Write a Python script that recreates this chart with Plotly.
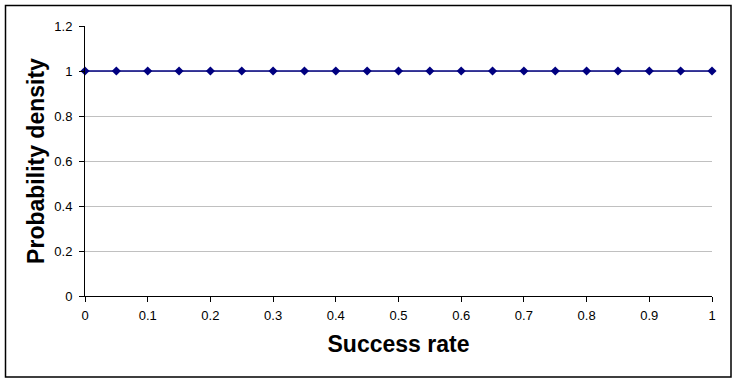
import plotly.graph_objects as go

success_rate = [0, 0.05, 0.1, 0.15, 0.2, 0.25, 0.3, 0.35, 0.4, 0.45, 0.5,
                0.55, 0.6, 0.65, 0.7, 0.75, 0.8, 0.85, 0.9, 0.95, 1]
density = [1] * len(success_rate)
x_ticks = [0, 0.1, 0.2, 0.3, 0.4, 0.5, 0.6, 0.7, 0.8, 0.9, 1]
x_tick_labels = ["0", "0.1", "0.2", "0.3", "0.4", "0.5", "0.6", "0.7", "0.8", "0.9", "1"]
y_ticks = [0, 0.2, 0.4, 0.6, 0.8, 1, 1.2]
y_tick_labels = ["0", "0.2", "0.4", "0.6", "0.8", "1", "1.2"]

W, H = 739, 383
L, R, T, B = 85, 712, 26, 296

fig = go.Figure()
fig.add_trace(go.Scatter(
    x=success_rate, y=density, mode="lines+markers",
    line=dict(color="#000080", width=1.5),
    marker=dict(symbol="diamond", size=7, color="#000080"),
    showlegend=False, cliponaxis=False, hoverinfo="skip",
))

font = "Liberation Sans, Arial, sans-serif"
fig.update_layout(
    width=W, height=H,
    margin=dict(l=L, r=W - R, t=T, b=H - B, pad=0),
    paper_bgcolor="white", plot_bgcolor="white",
    font=dict(family=font, color="black", size=13),
    xaxis=dict(
        range=[0, 1], tickvals=x_ticks, ticktext=x_tick_labels,
        showgrid=False, zeroline=False, showline=True, linecolor="black", linewidth=1,
        ticks="outside", ticklen=5, tickcolor="black", ticklabelstandoff=2,
        title=dict(text="<b>Success rate</b>", font=dict(size=23, family=font), standoff=14),
        tickfont=dict(size=13),
    ),
    yaxis=dict(
        range=[0, 1.2], tickvals=y_ticks, ticktext=y_tick_labels,
        showgrid=True, gridcolor="#c0c0c0", gridwidth=1,
        zeroline=False, showline=True, linecolor="black", linewidth=1,
        ticks="outside", ticklen=5, tickcolor="black", ticklabelstandoff=4,
        title=dict(text="<b>Probability density</b>", font=dict(size=23, family=font), standoff=3),
        tickfont=dict(size=13),
    ),
)

pw, ph = R - L, B - T
def px_x(p):
    return (p - L) / pw
def px_y(p):
    return (B - p) / ph

fig.add_shape(type="rect", xref="paper", yref="paper",
              x0=px_x(5.5), x1=px_x(731), y0=px_y(377), y1=px_y(5.5),
              line=dict(color="black", width=1.5), fillcolor="rgba(0,0,0,0)", layer="above")

fig.write_html("out.html", config={"displayModeBar": False, "staticPlot": True},
               post_script="document.body.style.margin='0';document.body.style.overflow='hidden';")
